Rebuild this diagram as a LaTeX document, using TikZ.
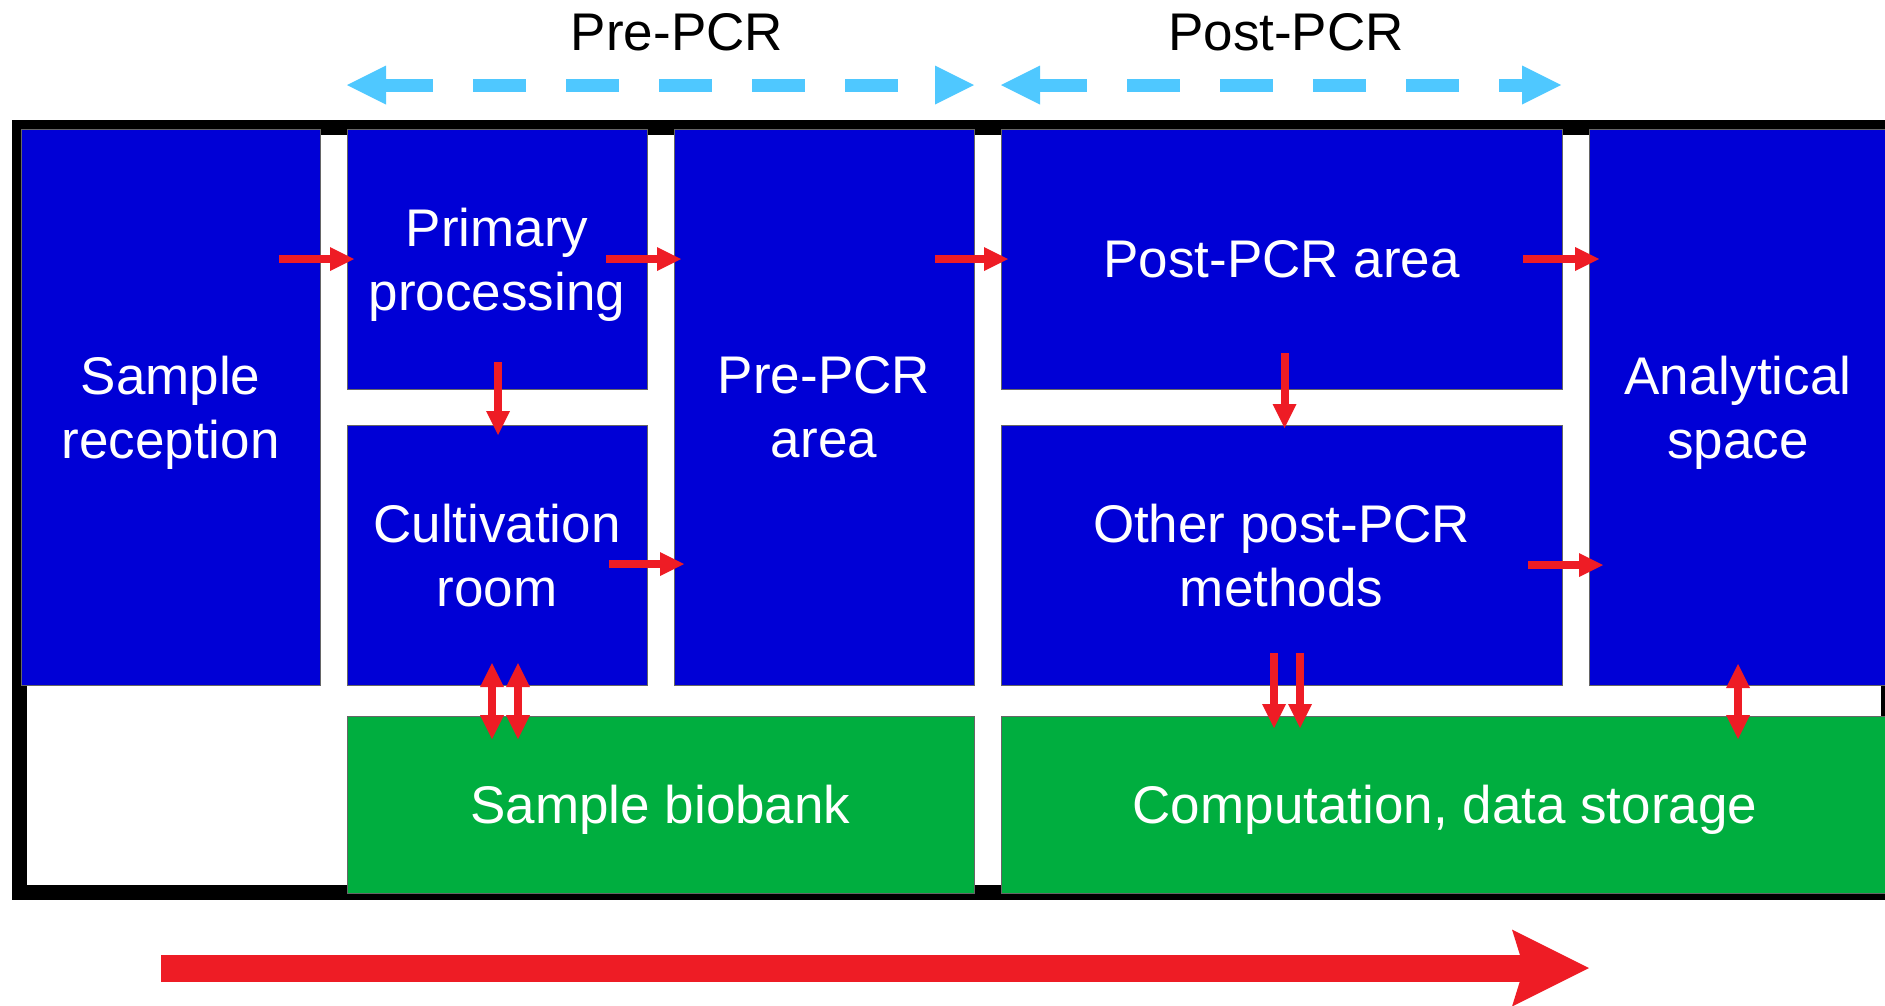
\documentclass[tikz,border=0pt]{standalone}
\usepackage{fontspec}
\setmainfont{Liberation Sans}
\usetikzlibrary{arrows.meta, positioning, calc}
\definecolor{roomblue}{HTML}{0000D6}
\definecolor{storegreen}{HTML}{00AE3F}
\definecolor{flowred}{HTML}{EE1C25}
\definecolor{zonecyan}{HTML}{4FC8FF}

\begin{document}
\begin{tikzpicture}[
  x=1pt, y=-1pt,
  room/.style={draw=black!60, line width=1pt, fill=roomblue, text=white,
               inner sep=0pt, outer sep=0pt, align=center, text depth=0pt,
               font=\fontsize{53}{64}\selectfont},
  store/.style={room, fill=storegreen},
  flow/.style={-{Triangle[length=24pt, width=24pt, line width=0pt]},
               line width=8pt, color=flowred},
  flowboth/.style={flow, {Triangle[length=24pt, width=24pt, line width=0pt]}-{Triangle[length=24pt, width=24pt, line width=0pt]}},
  zone/.style={line width=13pt, color=zonecyan, dash pattern=on 53pt off 40pt, dash phase=6pt,
               {Triangle[length=39pt, width=39pt, line width=0pt]}-{Triangle[length=39pt, width=39pt, line width=0pt]}},
  zonelabel/.style={inner sep=0pt, font=\fontsize{53}{64}\selectfont}
]
  \useasboundingbox (0,0) rectangle (1885,1005);

  % building outline
  \draw[line width=15pt] (19.5,127) rectangle (1888.5,892.5);

  % rooms
  \node[room, anchor=north west, minimum width=299pt, minimum height=556pt] (reception) at (21,129) {Sample\\reception};
  \node[room, minimum width=300pt, minimum height=260pt, right=27pt of reception.north east, anchor=north west] (primary) {Primary\\processing};
  \node[room, minimum width=300pt, minimum height=260pt, below=36pt of primary] (cultivation) {Cultivation\\room};
  \node[room, minimum width=300pt, minimum height=556pt, right=27pt of primary.north east, anchor=north west] (prepcr) {Pre-PCR\\area};
  \node[room, minimum width=561pt, minimum height=260pt, right=27pt of prepcr.north east, anchor=north west] (post) {Post-PCR area};
  \node[room, minimum width=561pt, minimum height=260pt, below=36pt of post] (other) {Other post-PCR\\methods};
  \node[room, minimum width=298pt, minimum height=556pt, right=27pt of post.north east, anchor=north west] (analytical) {Analytical\\space};
  \node[store, minimum width=627pt, minimum height=177pt, below=31pt of cultivation.south west, anchor=north west] (biobank) {Sample biobank};
  \node[store, minimum width=888pt, minimum height=177pt, below=31pt of other.south west, anchor=north west] (computation) {Computation, data storage};

  % zones
  \node[zonelabel] (prelabel) at (677,32) {Pre-PCR};
  \node[zonelabel] (postlabel) at (1286,32) {Post-PCR};
  \coordinate (preL) at (347,85);
  \coordinate (preR) at (974,85);
  \coordinate (postL) at (1001,85);
  \coordinate (postR) at (1561,85);
  \draw[zone] (preL) -- (preR);
  \draw[zone] (postL) -- (postR);

  % sample flow
  \draw[flow] ($(reception.east |- primary.west)+(-41pt,0)$) -- ($(primary.west)+(7pt,0)$);
  \draw[flow] ($(primary.east)+(-41pt,0)$) -- ($(primary.east -| prepcr.west)+(7pt,0)$);
  \draw[flow] ($(post.west -| prepcr.east)+(-39pt,0)$) -- ($(post.west)+(7pt,0)$);
  \draw[flow] ($(post.east)+(-39pt,0)$) -- ($(post.east -| analytical.west)+(10pt,0)$);
  \draw[flow] ($(cultivation.east)+(-38pt,-9pt)$) -- ($(cultivation.east -| prepcr.west)+(10pt,-9pt)$);
  \draw[flow] ($(other.east)+(-34pt,-10pt)$) -- ($(other.east -| analytical.west)+(14pt,-10pt)$);
  \draw[flow] ($(primary.south)+(1pt,27pt)$) -- ($(cultivation.north)+(1pt,-10pt)$);
  \draw[flow] ($(post.south)+(3pt,36pt)$) -- ($(other.north)+(3pt,-3pt)$);
  \draw[flowboth] ($(cultivation.south)+(-5pt,22pt)$) -- ($(cultivation.south |- biobank.north)+(-5pt,-23pt)$);
  \draw[flowboth] ($(cultivation.south)+(21pt,22pt)$) -- ($(cultivation.south |- biobank.north)+(21pt,-23pt)$);
  \draw[flow] ($(other.south)+(-7.5pt,32pt)$) -- ($(other.south |- computation.north)+(-7.5pt,-12pt)$);
  \draw[flow] ($(other.south)+(18.5pt,32pt)$) -- ($(other.south |- computation.north)+(18.5pt,-12pt)$);
  \draw[flowboth] ($(analytical.south)+(0,21pt)$) -- ($(analytical.south |- computation.north)+(0,-23pt)$);

  % overall direction
  \coordinate (progressL) at (161,968);
  \coordinate (progressR) at (1589,968);
  \draw[line width=27pt, color=flowred,
        -{Stealth[length=77pt, width=77pt, inset=12pt, line width=0pt]}] (progressL) -- (progressR);
\end{tikzpicture}
\end{document}
